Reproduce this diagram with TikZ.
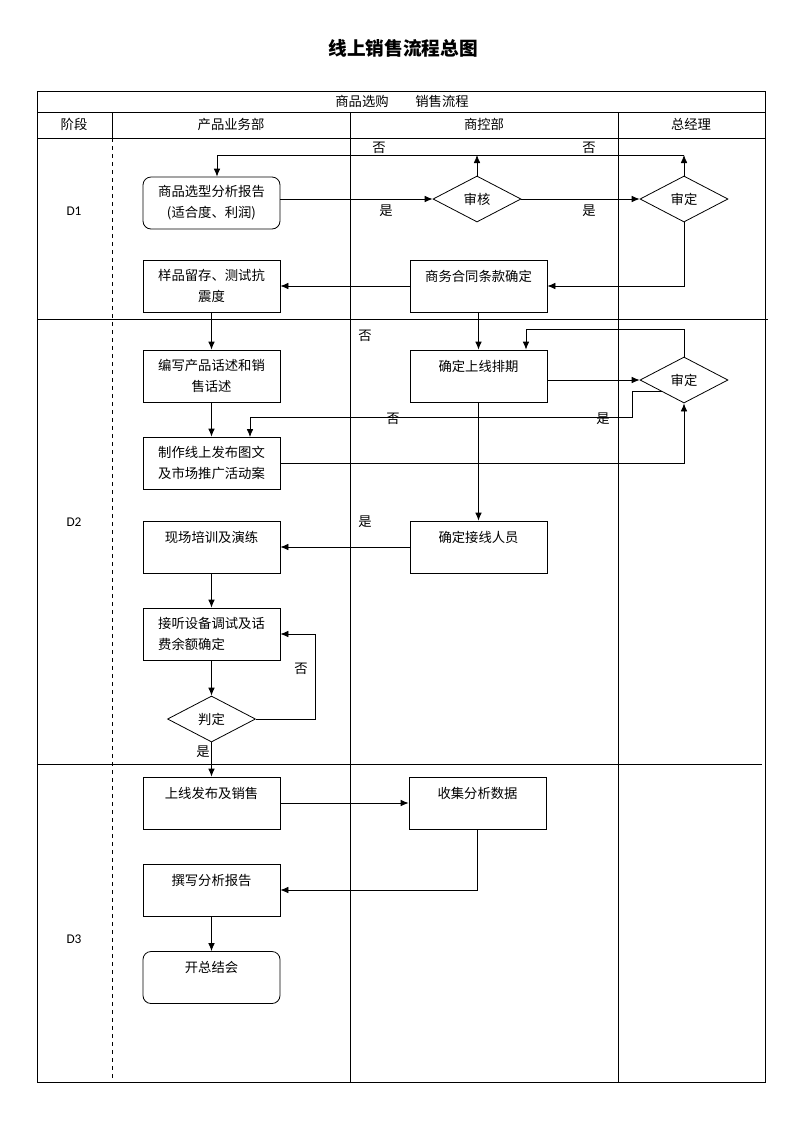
\documentclass[tikz,border=0pt]{standalone}
\usepackage{fontspec}
\usepackage{tikz}
\usetikzlibrary{arrows.meta}
\usetikzlibrary{shapes.geometric}

\newfontfamily\cjk{Noto Sans CJK SC}
\newfontfamily\latn{Carlito}

\tikzset{
    pbox/.style={draw, rectangle, minimum width=102.75pt, minimum height=39pt, align=center, inner sep=0pt},
    rbox/.style={pbox, rounded corners=6pt},
    dia/.style={draw, diamond, minimum width=66pt, minimum height=34.5pt, inner sep=0pt},
    arr/.style={-{Latex[length=6pt,width=5pt]}},
    lab/.style={inner sep=1pt}
}

\begin{document}
\begin{tikzpicture}[x=0.75pt, y=-0.75pt, line width=0.6pt,
    font=\cjk\fontsize{10}{15.5}\selectfont]
        \useasboundingbox (0,0) rectangle (793,1122);

        % Title
        \node (title) at (403,48) {\fontsize{14}{16}\selectfont\bfseries 线上销售流程总图};

        % Draw the table frame
        \draw (37,91) rectangle (765,1082);
        \draw (37,112) -- (765,112);
        \draw (37,138) -- (765,138);
        \draw (112,112) -- (112,138);
        \draw[dashed] (112,138) -- (112,1082);
        \draw (350,112) -- (350,1082);
        \draw (618,112) -- (618,1082);
        \draw (37,319) -- (768,319);
        \draw (37,764) -- (762,764);

        % Header texts
        \node (head) at (402,101) {商品选购\hspace{2em}销售流程};
        \node (hstage) at (74,124) {阶段};
        \node (hprod) at (231,124) {产品业务部};
        \node (hctrl) at (484,124) {商控部};
        \node (hboss) at (691,124) {总经理};
        \node[font=\latn\fontsize{10}{12}\selectfont] (d1) at (74,211) {D1};
        \node[font=\latn\fontsize{10}{12}\selectfont] (d2) at (74,522) {D2};
        \node[font=\latn\fontsize{10}{12}\selectfont] (d3) at (74,939) {D3};

        % Product department column
        \node[rbox] (report) at (211.5,203) {商品选型分析报告\\(适合度、利润)};
        \node[pbox] (sample) at (211.5,286) {样品留存、测试抗\\震度};
        \node[pbox] (script) at (211.5,376) {编写产品话述和销\\售话述};
        \node[pbox] (promo) at (211.5,463) {制作线上发布图文\\及市场推广活动案};
        \node[pbox] (train) at (211.5,547) {现场培训及演练\\~};
        \node[pbox, align=left] (phone) at (211.5,634) {接听设备调试及话\\费余额确定};
        \node[dia] (judge) at (211.5,719) {判定};
        \node[pbox] (launch) at (211.5,803) {上线发布及销售\\~};
        \node[pbox] (write) at (211.5,890) {撰写分析报告\\~};
        \node[rbox] (meet) at (211.5,977.5) {开总结会\\~};

        % Commerce control column
        \node[dia] (audit) at (477,199) {审核};
        \node[pbox] (contract) at (478.5,286) {商务合同条款确定\\~};
        \node[pbox] (sched) at (478.5,376) {确定上线排期\\~};
        \node[pbox] (staff) at (478.5,547) {确定接线人员\\~};
        \node[pbox] (data) at (477.5,803) {收集分析数据\\~};

        % General manager column
        \node[dia] (okA) at (684,199) {审定};
        \node[dia] (okB) at (684,380) {审定};

        % Helper points
        \coordinate (topL) at (217,155);
        \coordinate (ret) at (526,329);
        \coordinate (bendB) at (632,417);
        \coordinate (pin) at (250,437);

        % D1 connectors
        \draw[arr] (report.east |- audit) -- (audit.west);
        \draw[arr] (audit.east) -- (okA.west);
        \draw[arr] (audit.north) -- (audit.north |- topL);
        \draw[arr] (okA.north) -- (okA.north |- topL);
        \draw[arr] (okA.north |- topL) -- (topL) -- (report.north -| topL);
        \draw[arr] (okA.south) |- (contract.east);
        \draw[arr] (contract.west) -- (sample.east);

        % D2 connectors
        \draw[arr] (sample) -- (script);
        \draw[arr] (contract) -- (sched);
        \draw[arr] (okB.north) |- (ret) -- (sched.north -| ret);
        \draw[arr] (sched.east |- okB) -- (okB.west);
        \draw[arr] (okB.south west) -| (bendB) -- (bendB -| pin) -- (pin);
        \draw[arr] (promo.east) -| (okB.south);
        \draw[arr] (script) -- (promo);
        \draw[arr] (sched) -- (staff);
        \draw[arr] (staff) -- (train);
        \draw[arr] (train) -- (phone);
        \draw[arr] (phone) -- (judge);
        \draw[arr] (judge.east) -- ++(59,0) |- (phone.east);

        % D3 connectors
        \draw[arr] (judge) -- (launch);
        \draw[arr] (launch) -- (data);
        \draw[arr] (data.south) |- (write.east);
        \draw[arr] (write) -- (meet);

        % Yes / no labels
        \node[lab] (noA) at (379,148) {否};
        \node[lab] (noB) at (589,148) {否};
        \node[lab] (yesA) at (386,211) {是};
        \node[lab] (yesB) at (589,211) {是};
        \node[lab] (noC) at (365,336) {否};
        \node[lab] (noD) at (393,419) {否};
        \node[lab] (yesC) at (603,419) {是};
        \node[lab] (yesD) at (365,522) {是};
        \node[lab] (noE) at (301,669) {否};
        \node[lab] (yesE) at (203,752) {是};
    \end{tikzpicture}
\end{document}
